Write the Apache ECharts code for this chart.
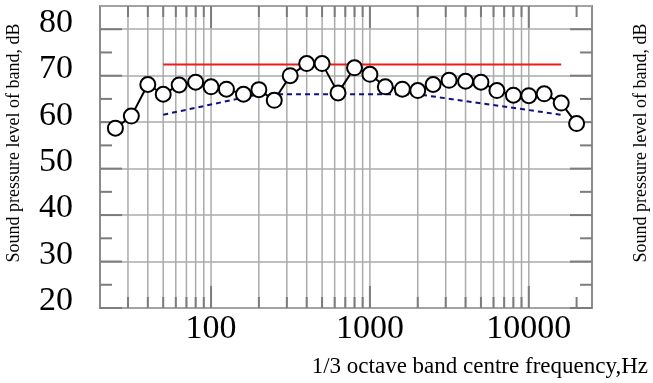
<!DOCTYPE html>
<html>
<head>
<meta charset="utf-8">
<script src="https://cdn.jsdelivr.net/npm/echarts@6/dist/echarts.min.js"></script>
<style>
  html, body { margin: 0; padding: 0; background: #ffffff; }
  #chart { width: 653px; height: 383px; }
</style>
</head>
<body>
<div id="chart"></div>
<script>
// 1/3 octave band centre frequencies (Hz) and measured band levels (dB)
const frequencies = [25, 31.5, 40, 50, 63, 80, 100, 125, 160, 200, 250, 315, 400, 500, 630, 800,
  1000, 1250, 1600, 2000, 2500, 3150, 4000, 5000, 6300, 8000, 10000, 12500, 16000, 20000];
const levels = [58.7, 61.3, 68.1, 66.0, 68.0, 68.6, 67.6, 67.1, 66.0, 67.0, 64.7, 70.0, 72.6, 72.6,
  66.3, 71.7, 70.3, 67.6, 67.1, 66.8, 68.1, 69.0, 68.8, 68.6, 66.8, 65.8, 65.7, 66.1, 64.1, 59.7];

// Red limit line
const limitFreq = [50, 16000];
const limitLevel = [72.4, 72.4];

// Blue dashed reference curve
const curveFreq = [50, 200, 2000, 16000];
const curveLevel = [61.6, 66.0, 66.0, 61.6];

// Axis ticks
const xTickLabels = [100, 1000, 10000];
const xGridFreqs = [30, 40, 50, 60, 70, 80, 90, 100, 200, 300, 400, 500, 600, 700, 800, 900,
  1000, 2000, 3000, 4000, 5000, 6000, 7000, 8000, 9000, 10000];
const xExtraTicks = [20000];
const yTickLabels = [20, 30, 40, 50, 60, 70, 80];
const yMinorTicks = [25, 35, 45, 55, 65, 75];

const X_MIN = 20, X_MAX = 25000, Y_MIN = 20, Y_MAX = 85;
const FONT = 'Liberation Serif';
const TICK_COLOR = '#7c7c7c';
const GRID_COLOR = '#ababab';

const chart = echarts.init(document.getElementById('chart'), null, { renderer: 'canvas' });

function pairs(xs, ys) { return xs.map((x, i) => [x, ys[i]]); }

const option = {
  animation: false,
  backgroundColor: '#ffffff',
  grid: {
    left: 100, right: 61, top: 6, bottom: 75,
    show: true, borderColor: '#8c8c8c', borderWidth: 2, backgroundColor: 'transparent'
  },
  xAxis: {
    type: 'log', logBase: 10, min: X_MIN, max: X_MAX,
    axisLine: { show: false },
    axisTick: { show: false },
    splitLine: { show: false },
    axisLabel: {
      margin: 4,
      fontFamily: FONT, fontSize: 34, color: '#000',
      formatter: function (v) {
        const r = Math.round(v);
        return xTickLabels.indexOf(r) >= 0 ? String(r) : '';
      }
    }
  },
  yAxis: {
    type: 'value', min: Y_MIN, max: Y_MAX, interval: 10,
    axisLine: { show: false },
    axisTick: { show: false },
    splitLine: { show: true, lineStyle: { color: GRID_COLOR, width: 1.5 } },
    axisLabel: {
      margin: 27,
      verticalAlign: 'bottom',
      lineHeight: 13,
      fontFamily: FONT, fontSize: 34, color: '#000',
      formatter: function (v) {
        return yTickLabels.indexOf(v) >= 0 ? String(v) : '';
      }
    }
  },
  graphic: [
    {
      type: 'text', x: 14, y: 143, rotation: Math.PI / 2,
      style: { text: 'Sound pressure level of band, dB', font: '18px "Liberation Serif"',
        fill: '#000', align: 'center', verticalAlign: 'middle' }
    },
    {
      type: 'text', x: 641, y: 143, rotation: Math.PI / 2,
      style: { text: 'Sound pressure level of band, dB', font: '18px "Liberation Serif"',
        fill: '#000', align: 'center', verticalAlign: 'middle' }
    },
    {
      type: 'text', x: 648, y: 367,
      style: { text: '1/3 octave band centre frequency,Hz', font: '23px "Liberation Serif"',
        fill: '#000', align: 'right', verticalAlign: 'middle' }
    }
  ],
  series: [
    {
      type: 'custom', z: 1, silent: true,
      data: xGridFreqs.concat(xExtraTicks).map(f => [f, Y_MIN]),
      encode: { x: 0, y: 1 },
      renderItem: function (params, api) {
        const f = api.value(0);
        const b = api.coord([f, Y_MIN]);
        const t = api.coord([f, Y_MAX]);
        const children = [];
        if (f <= 10000) {
          children.push({ type: 'line', shape: { x1: b[0], y1: b[1], x2: t[0], y2: t[1] },
            style: { stroke: GRID_COLOR, lineWidth: 1.5 } });
        }
        const len = xTickLabels.indexOf(f) >= 0 ? 22 : 11;
        children.push({ type: 'line', shape: { x1: b[0], y1: b[1], x2: b[0], y2: b[1] - len },
          style: { stroke: TICK_COLOR, lineWidth: 2 } });
        children.push({ type: 'line', shape: { x1: t[0], y1: t[1], x2: t[0], y2: t[1] + len },
          style: { stroke: TICK_COLOR, lineWidth: 2 } });
        return { type: 'group', children: children };
      }
    },
    {
      type: 'custom', z: 1, silent: true,
      data: yTickLabels.concat(yMinorTicks).map(v => [X_MIN, v]),
      encode: { x: 0, y: 1 },
      renderItem: function (params, api) {
        const v = api.value(1);
        const l = api.coord([X_MIN, v]);
        const r = api.coord([X_MAX, v]);
        const len = yTickLabels.indexOf(v) >= 0 ? 22 : 12;
        return { type: 'group', children: [
          { type: 'line', shape: { x1: l[0], y1: l[1], x2: l[0] + len, y2: l[1] },
            style: { stroke: TICK_COLOR, lineWidth: 2 } },
          { type: 'line', shape: { x1: r[0], y1: r[1], x2: r[0] - len, y2: r[1] },
            style: { stroke: TICK_COLOR, lineWidth: 2 } }
        ] };
      }
    },
    {
      type: 'line', z: 3, silent: true,
      data: pairs(limitFreq, limitLevel),
      symbol: 'none',
      lineStyle: { color: '#ee1c1c', width: 2 }
    },
    {
      type: 'line', z: 3, silent: true,
      data: pairs(curveFreq, curveLevel),
      symbol: 'none',
      lineStyle: { color: '#101080', width: 2, type: [5, 4] }
    },
    {
      type: 'line', z: 5, silent: true,
      data: pairs(frequencies, levels),
      symbol: 'circle', symbolSize: 15,
      itemStyle: { color: '#ffffff', borderColor: '#000000', borderWidth: 2 },
      lineStyle: { color: '#000000', width: 2 }
    }
  ]
};

chart.setOption(option);
</script>
</body>
</html>
